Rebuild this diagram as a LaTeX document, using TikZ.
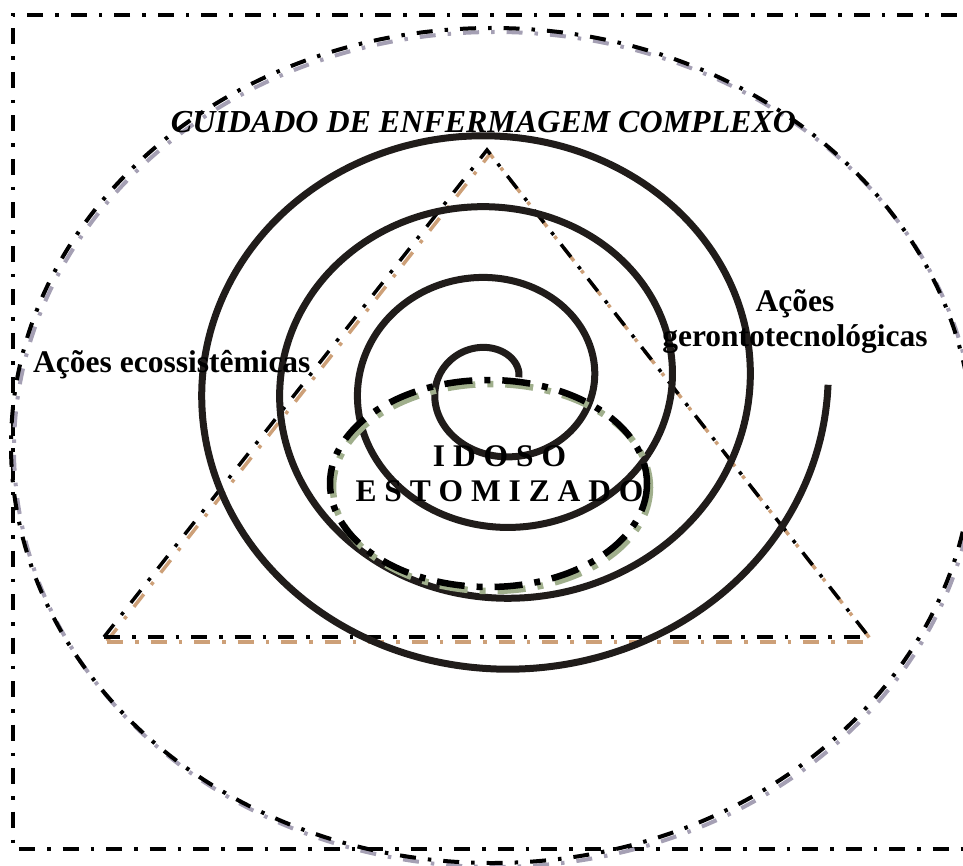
\documentclass[tikz,border=0pt]{standalone}
\usepackage{fontspec}
\setmainfont{Liberation Serif}
\definecolor{shadowgrey}{HTML}{A5A0B4}
\definecolor{shadowtan}{HTML}{CDA078}
\definecolor{shadowgreen}{HTML}{A0AF8C}
\definecolor{spiralink}{HTML}{201C1A}
\tikzset{
  dashdotpat/.style={dash pattern=on 16pt off 12pt on 3.5pt off 12pt},
  framestyle/.style={dashdotpat, line width=4pt, black},
  ovalline/.style={dashdotpat, line width=4pt, black},
  ovalshadow/.style={dashdotpat, line width=4pt, shadowgrey},
  triside/.style={dashdotpat, line width=3.5pt, black},
  tribase/.style={dashdotpat, line width=4.5pt, black},
  trisideshadow/.style={dashdotpat, line width=3.5pt, shadowtan},
  tribaseshadow/.style={dashdotpat, line width=4.5pt, shadowtan},
  spiralstyle/.style={line width=7pt, spiralink},
  coreline/.style={dash pattern=on 28pt off 12pt on 6pt off 12pt, line width=6.5pt, black},
  coreshadow/.style={dash pattern=on 28pt off 12pt on 6pt off 12pt, line width=6.5pt, shadowgreen},
  labeltext/.style={inner sep=0pt, font=\fontsize{31.5}{35}\selectfont\bfseries},
}
\begin{document}
\begin{tikzpicture}[x=1pt,y=-1pt]
\useasboundingbox (0,0) rectangle (963,866);
% outer frame (right side lies beyond the picture)
\coordinate (rtr) at (1000,15);
\coordinate (rtl) at (13,15);
\coordinate (rbl) at (13,849);
\coordinate (rbr) at (1000,849);
\draw[framestyle] (rtr) -- (rtl) -- (rbl) -- (rbr);
% large oval
\coordinate (ec) at (492,445.5);
\draw[ovalshadow] ([shift={(3,4)}]ec) ellipse [x radius=481, y radius=417.5];
\draw[ovalline] (ec) ellipse [x radius=481, y radius=417.5];
% triangle
\coordinate (apex) at (487,150);
\coordinate (bl) at (104,637);
\coordinate (br) at (869,637);
\draw[trisideshadow] ([shift={(3,4)}]bl) -- ([shift={(3,4)}]apex) -- ([shift={(3,4)}]br);
\draw[tribaseshadow] ([shift={(3,5)}]bl) -- ([shift={(3,5)}]br);
\draw[triside] (bl) -- (apex) -- (br);
\draw[tribase] (bl) -- (br);
% spiral
\draw[spiralstyle] plot[domain=20:1440, samples=600, smooth, variable=\t]
  ({495.5+(20.5+0.2167*\t)*cos(\t)}, {384.75-(18+0.1972*\t)*sin(\t)});
% inner dashed oval
\coordinate (ic) at (488.5,483.5);
\draw[coreshadow] ([shift={(3,4)}]ic) ellipse [x radius=158.5, y radius=103.5];
\draw[coreline] (ic) ellipse [x radius=158.5, y radius=103.5];
% texts
\node[labeltext, font=\fontsize{32}{35}\selectfont\bfseries\itshape, anchor=base] (title) at (483.5,133) {CUIDADO DE ENFERMAGEM COMPLEXO};
\node[labeltext, anchor=base west] (eco) at (33,372) {Ações ecossistêmicas};
\node[labeltext, align=center] (geronto) at (795,322) {Ações\\gerontotecnológicas};
\node[labeltext, align=center] (idoso) at (499.5,474) {I D O S O\\E S T O M I Z A D O};
\end{tikzpicture}
\end{document}
